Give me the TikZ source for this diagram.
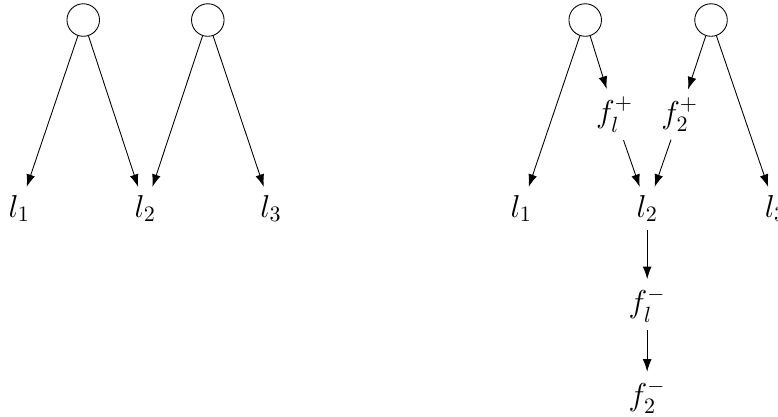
\documentclass[tikz,border=0pt]{standalone}
\usepackage{amsmath,amssymb}
\usepackage{tikz}
\usetikzlibrary{positioning,arrows.meta}
\tikzset{
  vertex/.style={circle,draw,minimum size=0.52cm,inner sep=0pt},
  lbl/.style={inner sep=3.5pt,font=\Large},
  arrow/.style={-{Latex[length=2mm,width=1.4mm]},draw}
}

\begin{document}
\begin{tikzpicture}
  \useasboundingbox (0,0) rectangle (12.43,6.66);
  % left: original graph
  \node[vertex] (a1) at (1.33,6.34) {};
  \node[vertex] (a2) at (3.32,6.34) {};
  \node[lbl] (al1) at (0.31,3.33) {$l_1$};
  \node[lbl] (al2) at (2.32,3.33) {$l_2$};
  \node[lbl] (al3) at (4.33,3.33) {$l_3$};
  \draw[arrow] (a1) -- (al1);
  \draw[arrow] (a1) -- (al2);
  \draw[arrow] (a2) -- (al2);
  \draw[arrow] (a2) -- (al3);
  % right: with flow nodes
  \node[vertex] (b1) at (9.35,6.34) {};
  \node[vertex] (b2) at (11.36,6.34) {};
  \node[lbl] (bl1) at (8.33,3.33) {$l_1$};
  \node[lbl] (bl2) at (10.34,3.33) {$l_2$};
  \node[lbl] (bl3) at (12.39,3.33) {$l_3$};
  \node[lbl] (fp1) at (9.82,4.83) {$f_l^+$};
  \node[lbl] (fp2) at (10.86,4.83) {$f_2^+$};
  \node[lbl] (fm1) at (10.34,1.79) {$f_l^-$};
  \node[lbl] (fm2) at (10.34,0.32) {$f_2^-$};
  \draw[arrow] (b1) -- (bl1);
  \draw[arrow] (b1) -- (fp1);
  \draw[arrow] (fp1) -- (bl2);
  \draw[arrow] (b2) -- (fp2);
  \draw[arrow] (fp2) -- (bl2);
  \draw[arrow] (b2) -- (bl3);
  \draw[arrow] (bl2) -- (fm1);
  \draw[arrow] (fm1) -- (fm2);
\end{tikzpicture}
\end{document}
